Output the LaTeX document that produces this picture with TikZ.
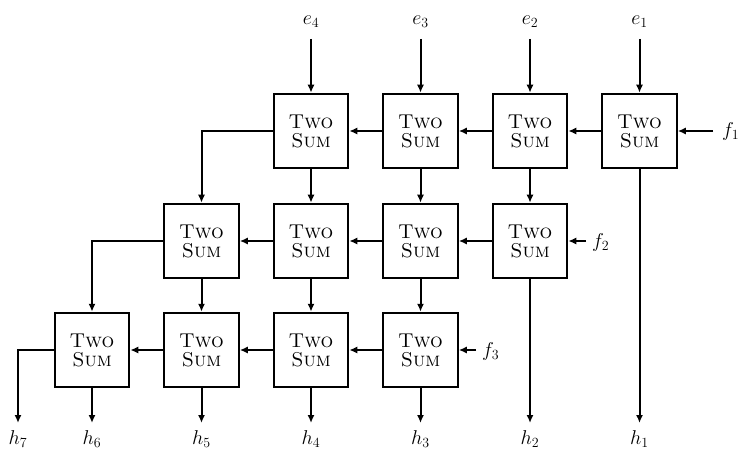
\RequirePackage{fix-cm}
\documentclass[tikz,border=0pt]{standalone}
\usepackage{fontspec}
\usetikzlibrary{arrows.meta}
\begin{document}
\begin{tikzpicture}[x=1pt,y=-1pt,
  ts/.style={draw,line width=2pt,minimum width=74.5pt,minimum height=74.5pt,inner sep=0pt,
    align=center,font=\fontsize{20}{19}\selectfont},
  arr/.style={line width=2pt,-{Latex[length=8pt,width=7pt]}},
  lbl/.style={anchor=base,inner sep=0pt,font=\fontsize{20}{24}\selectfont}]
\useasboundingbox (0,0) rectangle (749,457);
\def\tstext{\textsc{Two}\\\textsc{Sum}}
% boxes
\node[ts] (r1c2) at (311,131) {\tstext};
\node[ts] (r1c3) at (420.5,131) {\tstext};
\node[ts] (r1c4) at (530,131) {\tstext};
\node[ts] (r1c5) at (639.5,131) {\tstext};
\node[ts] (r2c1) at (201.5,241) {\tstext};
\node[ts] (r2c2) at (311,241) {\tstext};
\node[ts] (r2c3) at (420.5,241) {\tstext};
\node[ts] (r2c4) at (530,241) {\tstext};
\node[ts] (r3c0) at (92,350) {\tstext};
\node[ts] (r3c1) at (201.5,350) {\tstext};
\node[ts] (r3c2) at (311,350) {\tstext};
\node[ts] (r3c3) at (420.5,350) {\tstext};
% labels
\node[lbl] (le4) at (311,25) {$e_4$};
\node[lbl] (le3) at (420.5,25) {$e_3$};
\node[lbl] (le2) at (530,25) {$e_2$};
\node[lbl] (le1) at (639.5,25) {$e_1$};
\node[lbl,anchor=base west] (lf1) at (722,137) {$f_1$};
\node[lbl,anchor=base west] (lf2) at (592,247) {$f_2$};
\node[lbl,anchor=base west] (lf3) at (482,356) {$f_3$};
\node[lbl] (lh7) at (18,444) {$h_7$};
\node[lbl] (lh6) at (92,444) {$h_6$};
\node[lbl] (lh5) at (201.5,444) {$h_5$};
\node[lbl] (lh4) at (311,444) {$h_4$};
\node[lbl] (lh3) at (420.5,444) {$h_3$};
\node[lbl] (lh2) at (530,444) {$h_2$};
\node[lbl] (lh1) at (639.5,444) {$h_1$};
% free ends
\coordinate (se4) at (311,39);
\coordinate (se3) at (420.5,39);
\coordinate (se2) at (530,39);
\coordinate (se1) at (639.5,39);
\coordinate (sf1) at (713,131);
\coordinate (sf2) at (586,241);
\coordinate (sf3) at (476,350);
\coordinate (eh7) at (18,423);
\coordinate (eh6) at (92,423);
\coordinate (eh5) at (201.5,423);
\coordinate (eh4) at (311,423);
\coordinate (eh3) at (420.5,423);
\coordinate (eh2) at (530,423);
\coordinate (eh1) at (639.5,423);
% inputs
\draw[arr] (se4) -- (r1c2);
\draw[arr] (se3) -- (r1c3);
\draw[arr] (se2) -- (r1c4);
\draw[arr] (se1) -- (r1c5);
\draw[arr] (sf1) -- (r1c5);
\draw[arr] (sf2) -- (r2c4);
\draw[arr] (sf3) -- (r3c3);
% horizontal
\draw[arr] (r1c5) -- (r1c4);
\draw[arr] (r1c4) -- (r1c3);
\draw[arr] (r1c3) -- (r1c2);
\draw[arr] (r2c4) -- (r2c3);
\draw[arr] (r2c3) -- (r2c2);
\draw[arr] (r2c2) -- (r2c1);
\draw[arr] (r3c3) -- (r3c2);
\draw[arr] (r3c2) -- (r3c1);
\draw[arr] (r3c1) -- (r3c0);
% corners
\draw[arr] (r1c2.west) -| (r2c1.north);
\draw[arr] (r2c1.west) -| (r3c0.north);
\draw[arr] (r3c0.west) -| (eh7);
% vertical
\draw[arr] (r1c2) -- (r2c2);
\draw[arr] (r1c3) -- (r2c3);
\draw[arr] (r1c4) -- (r2c4);
\draw[arr] (r2c1) -- (r3c1);
\draw[arr] (r2c2) -- (r3c2);
\draw[arr] (r2c3) -- (r3c3);
% outputs
\draw[arr] (r1c5) -- (eh1);
\draw[arr] (r2c4) -- (eh2);
\draw[arr] (r3c3) -- (eh3);
\draw[arr] (r3c2) -- (eh4);
\draw[arr] (r3c1) -- (eh5);
\draw[arr] (r3c0) -- (eh6);
\end{tikzpicture}
\end{document}
